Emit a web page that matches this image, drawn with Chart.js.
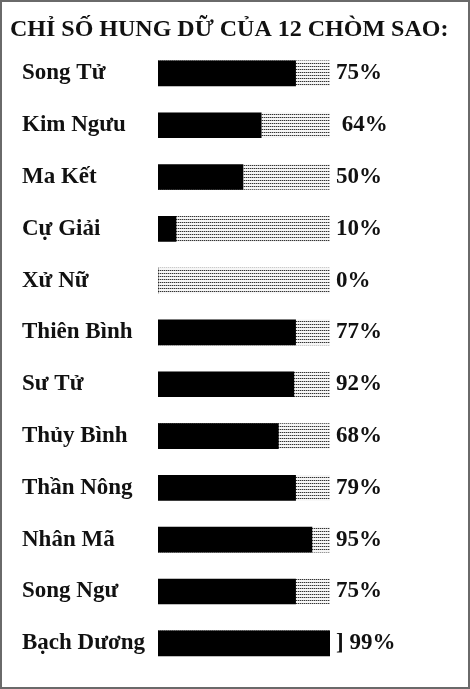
<!DOCTYPE html>
<html><head><meta charset="utf-8">
<script src="https://cdn.jsdelivr.net/npm/chart.js@4"></script>
<style>html,body{margin:0;padding:0;background:#fff}canvas{display:block}</style>
</head><body>
<canvas id="c" width="470" height="689"></canvas>
<script>
const titleText = 'CHỈ SỐ HUNG DỮ CỦA 12 CHÒM SAO:';
const signs = ['Song Tử','Kim Ngưu','Ma Kết','Cự Giải','Xử Nữ','Thiên Bình','Sư Tử','Thủy Bình','Thần Nông','Nhân Mã','Song Ngư','Bạch Dương'];
// bar lengths as drawn in the picture (fraction of the track)
const barValues = [0.80, 0.60, 0.494, 0.105, 0, 0.80, 0.79, 0.70, 0.80, 0.895, 0.80, 1.0];
const trackValues = [1,1,1,1,1,1,1,1,1,1,1,1];
const pctLabels = ['75%', ' 64%', '50%', '10%', '0%', '77%', '92%', '68%', '79%', '95%', '75%', '] 99%'];

function makePattern(){
  const p = document.createElement('canvas'); p.width = 2; p.height = 3;
  const g = p.getContext('2d');
  g.fillStyle = '#f6f6f6'; g.fillRect(0,0,2,3);
  g.fillStyle = '#333333'; g.fillRect(0,0,1,1);
  g.fillStyle = '#b0b0b0'; g.fillRect(1,0,1,1);
  return g.createPattern(p, 'repeat');
}
const serif = 'Liberation Serif';
const frame = {
  id: 'frame',
  afterLayout(chart){ chart.scales.y.left += 12; },
  afterDraw(chart){
    const c = chart.ctx; c.save();
    c.strokeStyle = '#6a6a6a'; c.lineWidth = 2;
    c.strokeRect(1, 1, chart.width - 2, chart.height - 2);
    c.restore();
  }
};
new Chart(document.getElementById('c'), {
  type: 'bar',
  data: {
    labels: signs,
    datasets: [
      { data: barValues, backgroundColor: '#000', barThickness: 25, grouped: false, order: 0, borderWidth: 0 },
      { data: trackValues, backgroundColor: makePattern(), barThickness: 25, grouped: false, order: 1, borderWidth: 0 }
    ]
  },
  options: {
    indexAxis: 'y',
    responsive: false,
    animation: false,
    layout: { padding: { left: 10, right: 0, top: 0, bottom: 17 } },
    plugins: {
      legend: { display: false },
      tooltip: { enabled: false },
      title: {
        display: true, text: titleText, align: 'start', color: '#111',
        font: { family: serif, weight: 'bold', size: 24 },
        padding: { top: 15, bottom: 3.7 }
      }
    },
    scales: {
      x: { display: false, min: 0, max: 1 },
      y: {
        type: 'category', position: 'left', offset: true,
        grid: { display: false, drawTicks: false }, border: { display: false },
        ticks: { crossAlign: 'far', padding: 0, color: '#111', font: { family: serif, weight: 'bold', size: 23 } },
        afterFit(s){ s.width = 148; }
      },
      y2: {
        type: 'category', position: 'right', offset: true, labels: pctLabels,
        grid: { display: false, drawTicks: false }, border: { display: false },
        ticks: { crossAlign: 'near', padding: 6, color: '#111', font: { family: serif, weight: 'bold', size: 23 } },
        afterFit(s){ s.width = 140; }
      }
    }
  },
  plugins: [frame]
});
</script>
</body></html>
